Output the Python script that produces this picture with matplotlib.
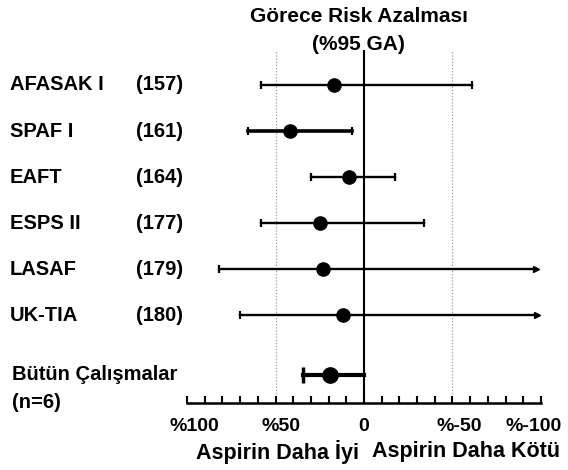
import matplotlib
matplotlib.use("Agg")
import matplotlib.pyplot as plt
import matplotlib.transforms as mtransforms
import numpy as np

plt.rcParams['font.family'] = ['Liberation Sans', 'DejaVu Sans']
plt.rcParams['font.weight'] = 'bold'

# relative risk reduction (%) with 95% CI, positive = aspirin better
studies = ["AFASAK I", "SPAF I", "EAFT", "ESPS II", "LASAF", "UK-TIA"]
refs = ["(157)", "(161)", "(164)", "(177)", "(179)", "(180)"]
rrr = [17, 42, 8.5, 25, 23, 12]
ci_low = [58, 65.5, 30, 58, 82, 70]
ci_high = [-61, 7, -17.5, -34, -97, -98]
truncated = [False, False, False, False, True, True]

pooled_rrr = 19
pooled_low = 34.5
pooled_high = 0

tick_vals = [100, 50, 0, -50, -100]
tick_labels = ["%100", "%50", "0", "%-50", "%-100"]

W, H = 568, 470
fig = plt.figure(figsize=(W / 100, H / 100), dpi=100)
ax = fig.add_axes([187 / W, 1 - 403 / H, 354 / W, 353 / H])
ax.set_xlim(100, -100)
ax.set_ylim(6.91, -0.76)

fs = 14.5

for i in range(len(studies)):
    thick = 2.6 if studies[i] == "SPAF I" else 1.7
    ax.plot([ci_low[i], ci_high[i]], [i, i], color='black', lw=thick, zorder=3)
    ax.plot([ci_low[i]], [i], marker='|', ms=6, mew=1.6, color='black', zorder=3)
    if truncated[i]:
        ax.plot([ci_high[i]], [i], marker='>', ms=5, color='black', zorder=3)
    else:
        ax.plot([ci_high[i]], [i], marker='|', ms=6, mew=1.6, color='black', zorder=3)
    ax.plot([rrr[i]], [i], 'o', ms=9.5, color='black', zorder=4)

yp = 6.3
ax.plot([pooled_low, pooled_high], [yp, yp], color='black', lw=3, zorder=3)
ax.plot([pooled_low], [yp], marker='|', ms=12, mew=2.5, color='black', zorder=3)
ax.plot([pooled_rrr], [yp], 'o', ms=11, color='black', zorder=4)

ax.axvline(0, color='black', lw=1.5, zorder=2)
for g in (50, -50):
    ax.axvline(g, color='#999999', lw=0.9, ls=(0, (1, 1.5)), zorder=1)

for s in ('top', 'left', 'right'):
    ax.spines[s].set_visible(False)
ax.spines['bottom'].set_linewidth(1.8)
ax.set_yticks([])
ax.set_xticks(tick_vals)
ax.set_xticklabels(tick_labels, fontsize=14, fontweight='bold')
ax.set_xticks(np.arange(-100, 101, 10), minor=True)
ax.tick_params(axis='x', which='both', direction='in', length=5, width=1.5, pad=11)
# labels sit a little off their ticks in the original
shifts = [7, 6, 0, 7, -7]
for lab, dx in zip(ax.get_xticklabels(), shifts):
    lab.set_transform(lab.get_transform() + mtransforms.ScaledTranslation(dx / 100, 0, fig.dpi_scale_trans))

lt = mtransforms.blended_transform_factory(fig.transFigure, ax.transData)
for i in range(len(studies)):
    ax.text(10 / W, i, studies[i], transform=lt, fontsize=fs, fontweight='bold', va='center', ha='left')
    ax.text(136 / W, i, refs[i], transform=lt, fontsize=fs, fontweight='bold', va='center', ha='left')
ax.text(12 / W, yp, "Bütün Çalışmalar", transform=lt, fontsize=fs, fontweight='bold', va='center', ha='left')
ax.text(12 / W, 6.91, "(n=6)", transform=lt, fontsize=fs, fontweight='bold', va='center', ha='left')

fig.text(359 / W, 1 - 17 / H, "Görece Risk Azalması", fontsize=15, fontweight='bold', ha='center', va='center')
fig.text(358 / W, 1 - 44 / H, "(%95 GA)", fontsize=15, fontweight='bold', ha='center', va='center')
fig.text(277 / W, 1 - 452 / H, "Aspirin Daha İyi", fontsize=15.5, fontweight='bold', ha='center', va='center')
fig.text(466 / W, 1 - 452 / H, "Aspirin Daha Kötü", fontsize=15.5, fontweight='bold', ha='center', va='center')

fig.savefig("out.png", dpi=100)
